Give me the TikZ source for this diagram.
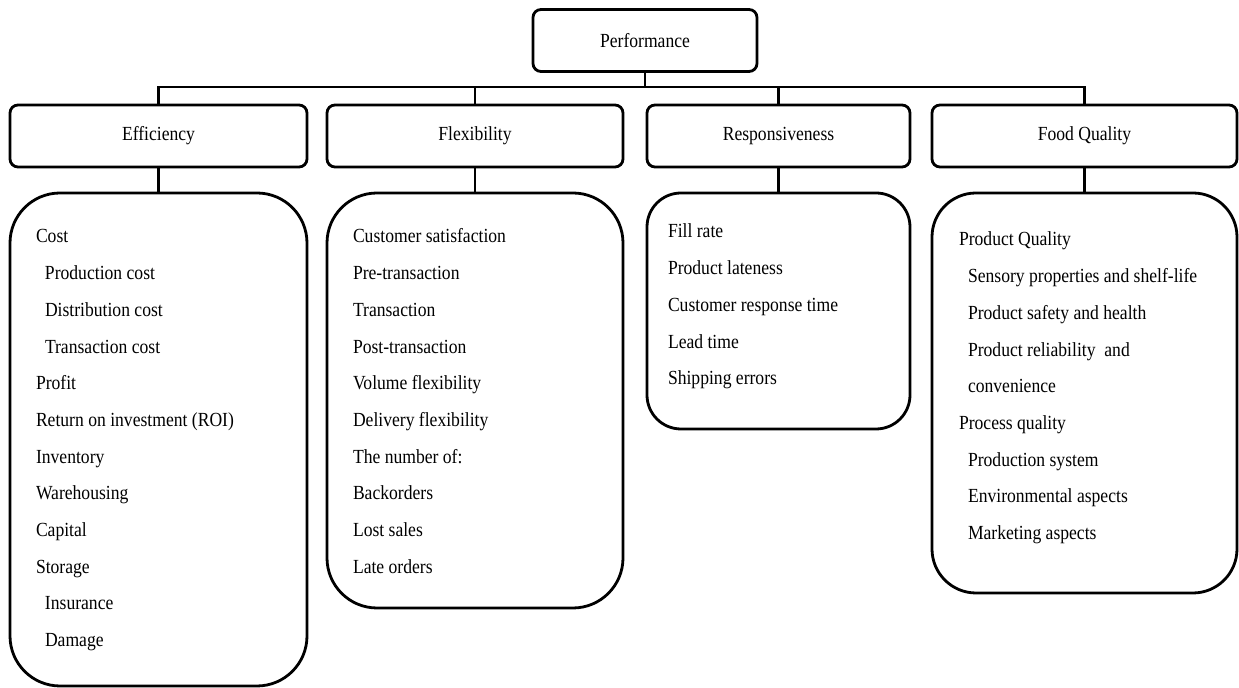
\documentclass[tikz,border=0pt]{standalone}
\usepackage{fontspec}
\setmainfont{Liberation Serif}[FakeStretch=0.88]
\usepackage{tikz}
\usetikzlibrary{positioning}

% list inside a box: height, width, first baseline, lines
\newcommand{\itembox}[4]{\begin{minipage}[t][#1][t]{#2}\rule{0pt}{#3}#4\end{minipage}}
\newcommand{\ind}{\hspace*{4.5pt}}

\begin{document}
\begin{tikzpicture}[x=0.5pt, y=-0.5pt, node distance=11pt, line width=1.4pt,
    every node/.style={font=\fontsize{10}{18.35}\selectfont, outer sep=0pt},
    head/.style={draw, rounded corners=4pt, minimum height=31pt, inner sep=0pt},
    listbox/.style={draw, inner xsep=13pt, inner ysep=0pt, below=13pt of #1}]

   \useasboundingbox (0,0) rectangle (1239,688);

   \node[head, minimum width=112pt] (perf) at (645,40.5) {Performance};
   \node[head, minimum width=148.5pt] (eff) at (158.5,136) {Efficiency};
   \node[head, minimum width=148pt] (flex) [right=10pt of eff] {Flexibility};
   \node[head, minimum width=131.5pt] (resp) [right=12pt of flex] {Responsiveness};
   \node[head, minimum width=152.5pt] (food) [right=of resp] {Food Quality};

   \node[listbox=eff, rounded corners=25pt] (effl)
     {\itembox{246.5pt}{122.5pt}{25pt}{Cost\\ \ind Production cost\\ \ind Distribution cost\\
      \ind Transaction cost\\ Profit\\ Return on investment (ROI)\\ Inventory\\ Warehousing\\
      Capital\\ Storage\\ \ind Insurance\\ \ind Damage}};
   \node[listbox=flex, rounded corners=25pt] (flexl)
     {\itembox{207.5pt}{122pt}{25pt}{Customer satisfaction\\ Pre-transaction\\ Transaction\\
      Post-transaction\\ Volume flexibility\\ Delivery flexibility\\ The number of:\\
      Backorders\\ Lost sales\\ Late orders}};
   \node[listbox=resp, rounded corners=17pt, inner xsep=10.5pt] (respl)
     {\itembox{118pt}{110.5pt}{22.5pt}{Fill rate\\ Product lateness\\ Customer response time\\
      Lead time\\ Shipping errors}};
   \node[listbox=food, rounded corners=22pt, inner xsep=13.5pt] (foodl)
     {\itembox{200pt}{125.5pt}{26.5pt}{Product Quality\\ \ind Sensory properties and shelf-life\\
      \ind Product safety and health\\ \ind Product reliability \ and\\ \ind convenience\\
      Process quality\\ \ind Production system\\ \ind Environmental aspects\\ \ind Marketing aspects}};

   \coordinate (bus) at (645,87);
   \draw (perf) -- (bus);
   \draw (eff.north) |- (bus) -| (food.north);
   \draw (flex.north) -- (flex.north |- bus);
   \draw (resp.north) -- (resp.north |- bus);

   \path (eff) edge (effl)
         (flex) edge (flexl)
         (resp) edge (respl)
         (food) edge (foodl);

\end{tikzpicture}
\end{document}
